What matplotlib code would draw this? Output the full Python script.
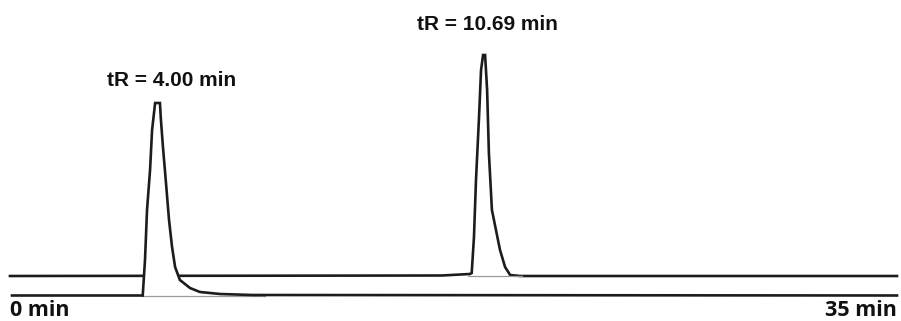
import matplotlib.pyplot as plt

# chromatogram traces, time in min (axis 0-35), signal above each trace's own baseline
t_low = [0, 5.17, 5.26, 5.34, 5.46, 5.54, 5.66, 5.85, 5.89, 5.97, 6.09, 6.21, 6.33,
         6.45, 6.64, 7.04, 7.43, 8.23, 9.5, 35]
s_low = [0, 0, 35.5, 85.5, 125.5, 165.5, 192.5, 192.5, 175.5, 148.5, 112.5, 75.5, 48.5,
         28.5, 15.5, 7.5, 3.5, 1.5, 0.5, 0]

t_high = [-0.08, 17.0, 18.11, 18.18, 18.27, 18.35, 18.47, 18.55, 18.63, 18.71, 18.79,
          18.86, 18.98, 19.14, 19.30, 19.50, 19.70, 20.09, 35]
s_high = [0, 0.5, 2, 3, 39, 96, 159, 206, 221, 221, 186, 123, 66, 46, 26, 9, 1, 0, 0]

labels = ['tR = 4.00 min', 'tR = 10.69 min']
axis_labels = ['0 min', '35 min']

# layout: baselines in pixel-style units (0 = bottom of figure)
base_low = 321 - 295.5
base_high = 321 - 276

fig = plt.figure(figsize=(9.01, 3.21), dpi=100)
ax = fig.add_axes([0, 0, 1, 1])
ax.set_xlim(-12 * 35 / 885, (901 - 12) * 35 / 885)
ax.set_ylim(0, 321)
ax.axis('off')

dark = '#1c1c1c'

# upper trace (drawn first, lower peak covers it)
y_high = [base_high + v for v in s_high]
ax.plot(t_high, y_high, color=dark, lw=1.9, zorder=2, solid_joinstyle='miter')
ax.plot([18.03, 20.15], [base_high, base_high], color='#9a9a9a', lw=0.9, zorder=3)

# lower trace with white fill so it hides the upper baseline
y_low = [base_low + v for v in s_low]
ax.fill_between(t_low, base_low, y_low, color='white', zorder=4)
ax.plot([5.15, 10.0], [base_low, base_low], color='#9a9a9a', lw=0.9, zorder=5)
ax.plot(t_low, y_low, color=dark, lw=1.9, zorder=6, solid_joinstyle='miter')

# annotations
ax.text(6.31, 321 - 80, labels[0], ha='center', va='center', fontsize=15,
        fontweight='bold', family='Liberation Sans', color='#111111')
ax.text(18.8, 321 - 24, labels[1], ha='center', va='center', fontsize=15,
        fontweight='bold', family='Liberation Sans', color='#111111')
ax.text(-0.08, 0, axis_labels[0], ha='left', va='bottom', fontsize=15.5,
        fontweight='bold', family='Open Sans', color='#111111')
ax.text(35.0, 0, axis_labels[1], ha='right', va='bottom', fontsize=15.5,
        fontweight='bold', family='Open Sans', color='#111111')

fig.savefig('out.png', dpi=100)
